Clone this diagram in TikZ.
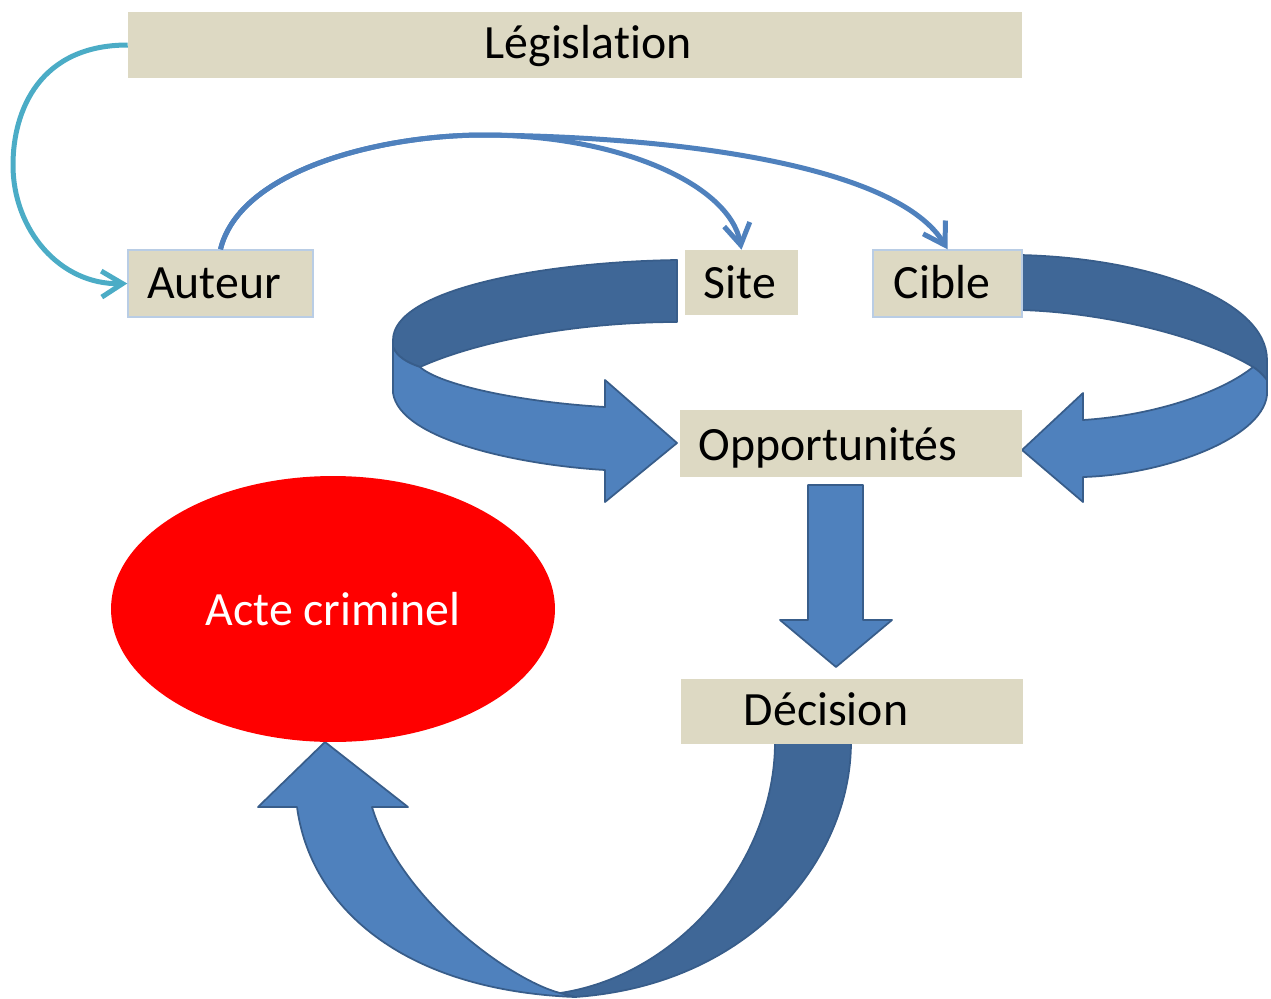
\documentclass[tikz,border=0pt]{standalone}
\usepackage{fontspec}
\setmainfont{Carlito}[Ligatures=CommonOff]
\usetikzlibrary{arrows.meta,shapes.geometric}
\definecolor{boxfill}{HTML}{DDD9C3}
\definecolor{boxline}{HTML}{B9CDE5}
\definecolor{bluefill}{HTML}{4F81BD}
\definecolor{bluedark}{HTML}{3F6797}
\definecolor{blueline}{HTML}{385D8A}
\definecolor{cyanline}{HTML}{4BACC6}
\begin{document}
\begin{tikzpicture}[x=0.02cm,y=-0.02cm,
 box/.style={fill=boxfill, inner sep=0pt, draw=none},
 boxb/.style={box, draw=boxline, line width=0.03cm},
 lbl/.style={anchor=base, inner sep=0pt, font=\fontsize{27.2}{32}\selectfont, text=black},
 ribbonlight/.style={fill=bluefill, draw=blueline, line width=0.035cm, line join=round},
 ribbondark/.style={fill=bluedark, draw=blueline, line width=0.035cm, line join=round},
 conn/.style={line width=0.1cm, -{Straight Barb[length=0.42cm,width=0.52cm]}}
]
\useasboundingbox (0,0) rectangle (1271,998);

% left curved arrow (Site -> Opportunites)
\path[ribbondark] (677,260) .. controls (540,262) and (393,290) .. (393,340) -- (393,347)
  .. controls (397,357) and (408,363) .. (420,367)
  .. controls (480,340) and (580,322) .. (677,322) -- cycle;
\path[ribbonlight] (393,347) -- (393,393) .. controls (400,440) and (520,465) .. (605,470)
  -- (605,502) -- (677,443) -- (605,380) -- (605,407)
  .. controls (520,402) and (440,385) .. (420,367)
  .. controls (408,363) and (397,357) .. (393,347) -- cycle;

% right curved arrow (Cible -> Opportunites)
\path[ribbondark] (1020,255) .. controls (1150,258) and (1267,300) .. (1267,360) -- (1267,380)
  .. controls (1262,374) and (1258,370) .. (1253,367)
  .. controls (1200,335) and (1100,312) .. (1020,310) -- cycle;
\path[ribbonlight] (1267,380) -- (1267,395) .. controls (1262,440) and (1160,475) .. (1083,477)
  -- (1083,502) -- (1022,450) -- (1083,393) -- (1083,420)
  .. controls (1160,415) and (1225,390) .. (1253,367)
  .. controls (1258,370) and (1262,374) .. (1267,380) -- cycle;

% down arrow
\path[ribbonlight] (808,485) -- (863,485) -- (863,620) -- (892,620) -- (836,667) -- (780,620) -- (808,620) -- cycle;

% bottom curved arrow (Decision -> Acte criminel)
\path[ribbondark] (775,742) -- (851,742) .. controls (851,860) and (750,985) .. (575,997)
  -- (560,993) .. controls (680,975) and (775,860) .. (775,742) -- cycle;
\path[ribbonlight] (575,997) .. controls (400,990) and (310,905) .. (297,807)
  -- (258,807) -- (325,742) -- (408,807) -- (372,807)
  .. controls (400,900) and (510,980) .. (560,993) -- cycle;

% boxes
\node[box, minimum width=17.88cm, minimum height=1.32cm] (leg) at (575,45) {};
\node[boxb, minimum width=3.7cm, minimum height=1.34cm] (aut) at (220.5,283.5) {};
\node[box, minimum width=2.26cm, minimum height=1.3cm] (site) at (741.5,282.5) {};
\node[boxb, minimum width=2.98cm, minimum height=1.34cm] (cib) at (947.5,283.5) {};
\node[box, minimum width=6.84cm, minimum height=1.34cm] (opp) at (851,443.5) {};
\node[box, minimum width=6.84cm, minimum height=1.3cm] (dec) at (852,711.5) {};
\node[ellipse, fill=red, draw=none, inner sep=0pt, minimum width=8.88cm, minimum height=5.32cm] (acte) at (333,609) {};

% labels
\node[lbl] at (588,58) {Législation};
\node[lbl] at (214,298) {Auteur};
\node[lbl] at (740,298) {Site};
\node[lbl] at (942,298) {Cible};
\node[lbl] at (828,460) {Opportunités};
\node[lbl] at (826,725) {Décision};
\node[lbl, text=white] at (333,625) {Acte criminel};

% connectors
\draw[conn, cyanline] (leg.west) .. controls (40,45) and (13,110) .. (13,165)
  .. controls (13,230) and (60,285) .. (aut.west);
\draw[conn, bluefill] (aut.north) .. controls (240,170) and (380,135) .. (484,135)
  .. controls (620,135) and (730,185) .. (site.north);
\draw[conn, bluefill] (aut.north) .. controls (240,170) and (380,135) .. (484,135)
  .. controls (700,137) and (900,170) .. (cib.north);
\end{tikzpicture}
\end{document}
